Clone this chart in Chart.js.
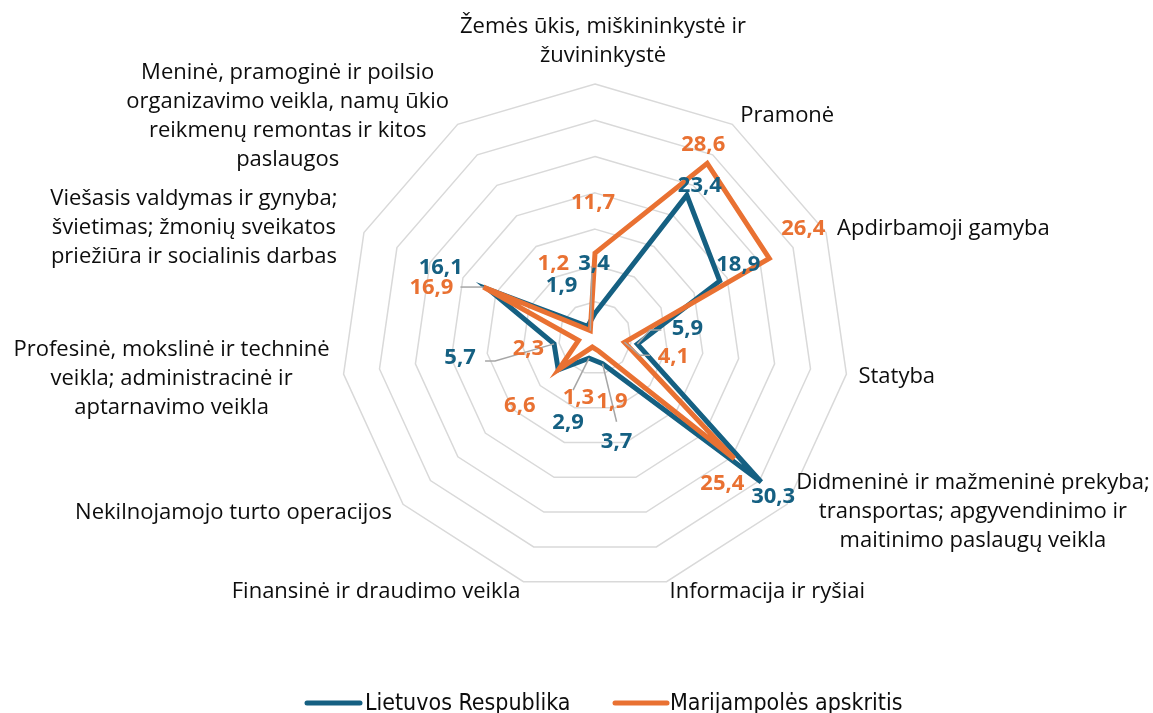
<!DOCTYPE html>
<html><head><meta charset="utf-8">
<script src="https://cdn.jsdelivr.net/npm/chart.js@4"></script>
<style>html,body{margin:0;padding:0;background:#fff;overflow:hidden}</style>
</head><body>
<canvas id="c" width="1153" height="713"></canvas>
<script>
// ---------- DATA ----------
const categories = [
  ["Žemės ūkis, miškininkystė ir", "žuvininkystė"],
  ["Pramonė"],
  ["Apdirbamoji gamyba"],
  ["Statyba"],
  ["Didmeninė ir mažmeninė prekyba;", "transportas; apgyvendinimo ir", "maitinimo paslaugų veikla"],
  ["Informacija ir ryšiai"],
  ["Finansinė ir draudimo veikla"],
  ["Nekilnojamojo turto operacijos"],
  ["Profesinė, mokslinė ir techninė", "veikla; administracinė ir", "aptarnavimo veikla"],
  ["Viešasis valdymas ir gynyba;", "švietimas; žmonių sveikatos", "priežiūra ir socialinis darbas"],
  ["Meninė, pramoginė ir poilsio", "organizavimo veikla, namų ūkio", "reikmenų remontas ir kitos", "paslaugos"]
];
const seriesNames = ["Lietuvos Respublika", "Marijampolės apskritis"];
const lietuvosRespublika = [3.4, 23.4, 18.9, 5.9, 30.3, 3.7, 2.9, 6.7, 5.7, 16.1, 1.9];
const marijampolesApskritis = [11.7, 28.6, 26.4, 4.1, 25.4, 1.9, 1.3, 6.6, 2.3, 16.9, 1.2];
const axisMin = 0, axisMax = 35, axisStep = 5;

// ---------- STYLES / LAYOUT ----------
const colors = ["#156082", "#E97132"];
const labelFont = "'Open Sans', 'Noto Sans', sans-serif";
// category label placement relative to outer grid vertex: dx, dy (first line middle), align
const catLayout = [
  {dx: 8, dy: -57, align: "center"},
  {dx: 8, dy: -9, align: "left"},
  {dx: 11, dy: -4, align: "left"},
  {dx: 12, dy: 3, align: "left"},
  {dx: 186, dy: -22, align: "center"},
  {dx: 3, dy: 10, align: "left"},
  {dx: -3, dy: 10, align: "right"},
  {dx: -11, dy: 8, align: "right"},
  {dx: -172, dy: -24, align: "center"},
  {dx: -170, dy: -34, align: "center"},
  {dx: -170, dy: -52, align: "center"}
];
const lineGap = 29;
// value label offsets from data point [series][index]; null = label not shown
const valueOffsets = [
  [[-1,-50],[13,-9],[18.5,-16.7],[50,-15],[12,15],[14,78],[-21,64.5],null,[-94,14],[-48,-21.5],[-26,-41]],
  [[-2,-50],[-4,-18.5],[34,-30],[49,14],[-12,25],[13,50.5],[-14,51],[-39,36],[-50,8],[-52,1],[-37,-67]]
];
// leader lines: [series, index, waypoints relative to point]
const leaders = [
  [1, 10, [[1.7,-64]]],
  [1, 9, [[-23,0]]],
  [0, 8, [[-59,17],[-69,17]]],
  [0, 6, [[-16,32]]],
  [0, 5, [[14,58]]],
  [0, 3, [[12.6,-14],[24,-14]]],
  [1, 3, [[15.5,13],[25.5,13]]]
];

const labelsPlugin = {
  id: "customLabels",
  afterDatasetsDraw(chart) {
    const ctx = chart.ctx;
    const r = chart.scales.r;
    ctx.save();
    // leader lines
    ctx.strokeStyle = "#a6a6a6";
    ctx.lineWidth = 1.5;
    leaders.forEach(([s, i, pts]) => {
      const el = chart.getDatasetMeta(s).data[i];
      ctx.beginPath();
      ctx.moveTo(el.x, el.y);
      pts.forEach(p => ctx.lineTo(el.x + p[0], el.y + p[1]));
      ctx.stroke();
    });
    // value labels
    ctx.font = "bold 22px " + labelFont;
    ctx.textAlign = "center";
    ctx.textBaseline = "middle";
    [0, 1].forEach(s => {
      const meta = chart.getDatasetMeta(s);
      const vals = chart.data.datasets[s].data;
      ctx.fillStyle = colors[s];
      meta.data.forEach((el, i) => {
        const o = valueOffsets[s][i];
        if (!o) return;
        ctx.fillText(vals[i].toFixed(1).replace(".", ","), el.x + o[0], el.y + o[1]);
      });
    });
    // category labels
    ctx.font = "22px " + labelFont;
    ctx.fillStyle = "#0d0d0d";
    categories.forEach((lines, i) => {
      const p = r.getPointPosition(i, r.drawingArea);
      const L = catLayout[i];
      ctx.textAlign = L.align;
      lines.forEach((t, k) => ctx.fillText(t, p.x + L.dx, p.y + L.dy + k * lineGap));
    });
    // legend
    const legendItems = [{x: 307, w: 53, tx: 365}, {x: 615, w: 52, tx: 670}];
    ctx.font = "23px 'Liberation Sans Narrow', 'DejaVu Sans Condensed', sans-serif";
    ctx.textAlign = "left";
    legendItems.forEach((it, s) => {
      ctx.strokeStyle = colors[s];
      ctx.lineWidth = 5;
      ctx.lineCap = "round";
      ctx.beginPath();
      ctx.moveTo(it.x, 703);
      ctx.lineTo(it.x + it.w, 703);
      ctx.stroke();
      ctx.fillStyle = "#0d0d0d";
      ctx.fillText(seriesNames[s], it.tx, 704);
    });
    ctx.restore();
  }
};

new Chart(document.getElementById("c"), {
  type: "radar",
  data: {
    labels: categories,
    datasets: [
      {label: seriesNames[0], data: lietuvosRespublika, borderColor: colors[0], backgroundColor: "transparent",
       borderWidth: 5, pointRadius: 0, pointHoverRadius: 0, fill: false, order: 2},
      {label: seriesNames[1], data: marijampolesApskritis, borderColor: colors[1], backgroundColor: "transparent",
       borderWidth: 5, pointRadius: 0, pointHoverRadius: 0, fill: false, order: 1}
    ]
  },
  options: {
    responsive: false,
    animation: false,
    devicePixelRatio: 1,
    layout: {padding: {top: 84, bottom: 121, left: 90, right: 53}},
    plugins: {legend: {display: false}, tooltip: {enabled: false}},
    elements: {line: {tension: 0, borderJoinStyle: "miter"}},
    scales: {
      r: {
        min: axisMin, max: axisMax,
        ticks: {display: false, stepSize: axisStep},
        grid: {color: "#d9d9d9", lineWidth: 1.5},
        angleLines: {display: false},
        pointLabels: {display: false}
      }
    }
  },
  plugins: [labelsPlugin]
});
</script>
</body></html>
